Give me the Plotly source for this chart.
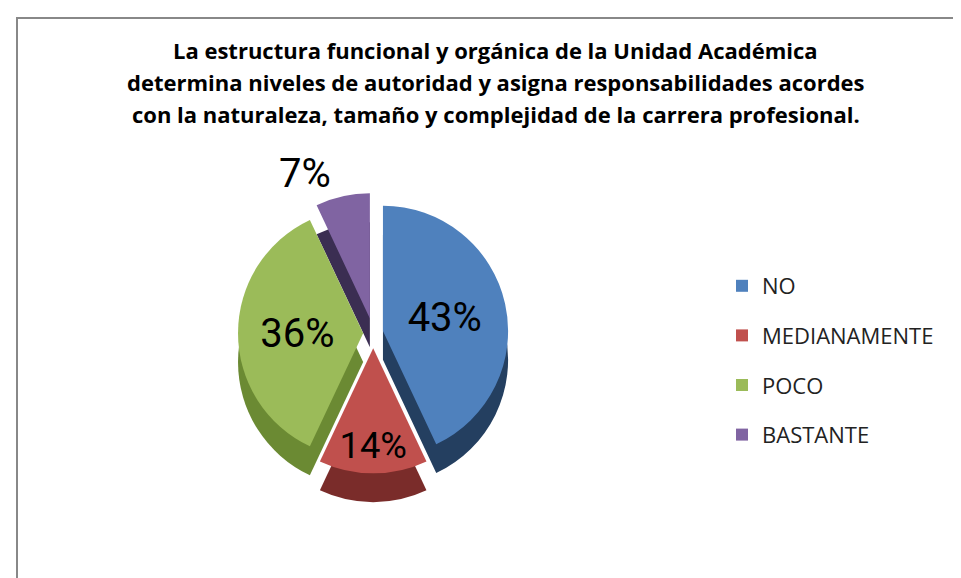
import plotly.graph_objects as go

categories = ["NO", "MEDIANAMENTE", "POCO", "BASTANTE"]
values = [43, 14, 36, 7]
colors = ["#4F81BD", "#C0504D", "#9BBB59", "#8064A2"]
side_colors = ["#243F60", "#7A2C2A", "#6B8A33", "#3B2E52"]
title_lines = [
    "La estructura funcional y orgánica de la Unidad Académica",
    "determina niveles de autoridad y asigna responsabilidades acordes",
    "con la naturaleza, tamaño y complejidad de la carrera profesional.",
]

W, H = 961, 578
pull = [0.08, 0.12, 0.08, 0.12]

dx0, dx1 = 0.10, 0.66
dy0, dy1 = 0.195, 0.68
depth = 0.05

fig = go.Figure()
# side wall (depth) pie
fig.add_trace(go.Pie(
    labels=categories, values=values, sort=False, direction="clockwise", rotation=0,
    pull=pull, marker=dict(colors=side_colors, line=dict(width=0)),
    textinfo="none", hoverinfo="skip", showlegend=False,
    domain=dict(x=[dx0, dx1], y=[dy0 - depth, dy1 - depth]),
))
# top face pie
fig.add_trace(go.Pie(
    labels=categories, values=values, sort=False, direction="clockwise", rotation=0,
    pull=pull, marker=dict(colors=colors, line=dict(width=0)),
    texttemplate="%{percent:.0%}", textposition=["inside", "inside", "inside", "outside"],
    insidetextorientation="horizontal",
    textfont=dict(family="Roboto, Arial", size=40, color="#000000"),
    outsidetextfont=dict(family="Roboto, Arial", size=40, color="#000000"),
    showlegend=False,
    domain=dict(x=[dx0, dx1], y=[dy0, dy1]),
))
# legend entries
for c, col in zip(categories, colors):
    fig.add_trace(go.Scatter(
        x=[None], y=[None], mode="markers", name=c, legendgroup=c,
        marker=dict(symbol="square", size=12, color=col),
    ))

for i, line in enumerate(title_lines):
    fig.add_annotation(
        text="<b>" + line + "</b>", xref="paper", yref="paper",
        x=488 / W, y=1 - (42 + 32 * i) / H, xanchor="center", yanchor="middle",
        showarrow=False,
        font=dict(family="Open Sans, Arial", size=22, color="#000000"),
    )

fig.add_shape(type="rect", xref="paper", yref="paper",
              x0=9 / W, x1=1.05, y0=-0.05, y1=1 - 10 / H,
              line=dict(color="#888888", width=2), fillcolor="rgba(0,0,0,0)", layer="below")

fig.update_layout(
    width=W, height=H,
    margin=dict(l=0, r=0, t=0, b=0, autoexpand=False),
    paper_bgcolor="white", plot_bgcolor="white",
    xaxis=dict(visible=False), yaxis=dict(visible=False),
    legend=dict(x=0.743, y=1 - 257 / H, xanchor="left", yanchor="top",
                tracegroupgap=18, itemsizing="constant",
                font=dict(family="Open Sans, Arial", size=22, color="#222222"),
                bgcolor="rgba(0,0,0,0)"),
)

fig.write_html("out.html")
